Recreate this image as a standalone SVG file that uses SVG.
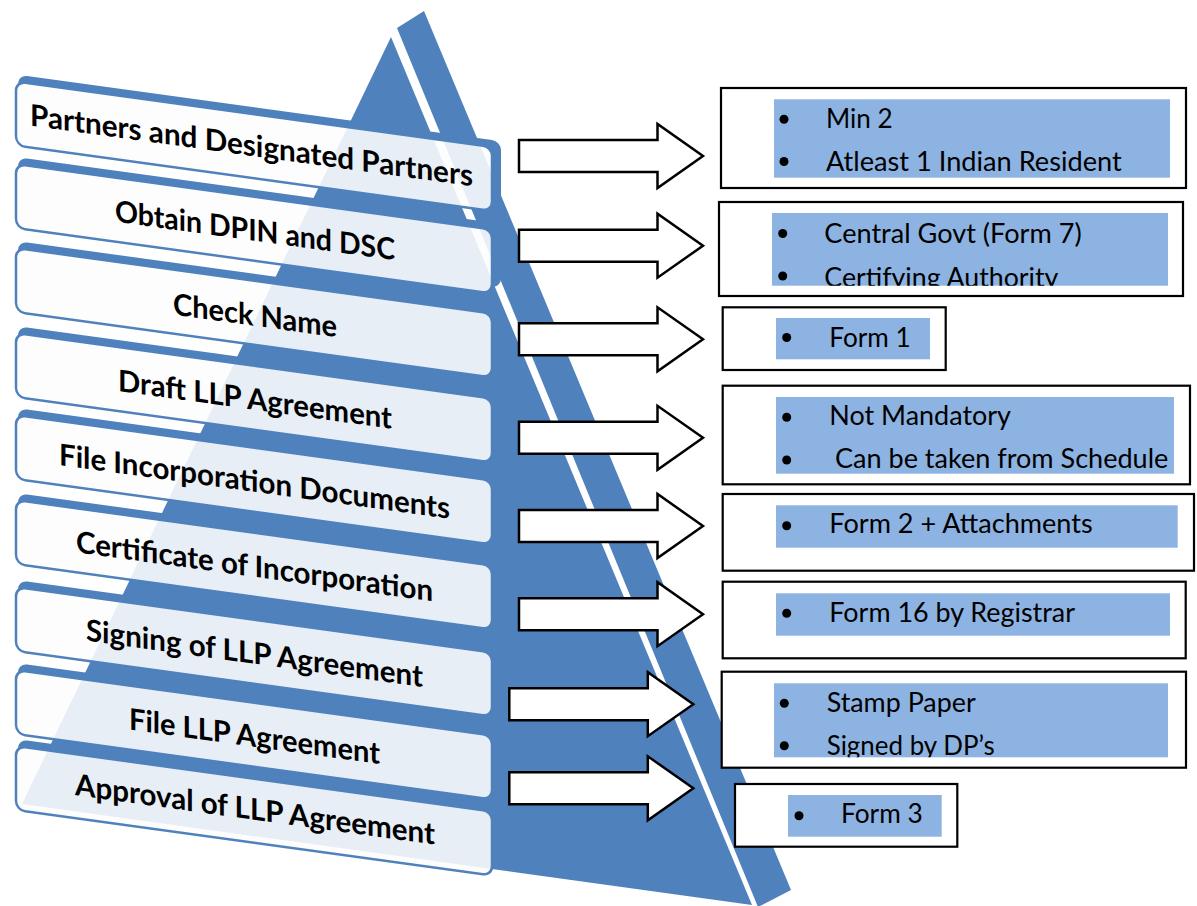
<svg xmlns="http://www.w3.org/2000/svg" xmlns:xlink="http://www.w3.org/1999/xlink" width="1197" height="906" viewBox="0 0 1197 906">
  <style>
    .face{fill:#4F81BD}
    .back{fill:#4F81BD}
    .front{fill:#FDFDFE;stroke:#4F81BD;stroke-width:2.5}
    .tint{opacity:0.12}
    .lbl{font-family:Lato,"Liberation Sans",sans-serif;font-weight:700;font-size:30px;fill:#000}
    .box{fill:#fff;stroke:#000;stroke-width:2.2}
    .hl{fill:#8DB3E2}
    .item{font-family:Lato,"Liberation Sans",sans-serif;font-size:27px;fill:#000}
    .dot{fill:#000}
    .arrow{fill:#fff;stroke:#000;stroke-width:2.5;stroke-linejoin:miter}
  </style>
  <defs>
    <!-- two faces of the pyramid, separated by a thin white gap -->
    <g id="pyr">
      <polygon class="face" points="391,37 752,905 22,804"/>
      <polygon class="face" points="397,28 424,11 791,890 758,907"/>
    </g>
    <!-- front faces of the step bands, used to tint the pyramid seen through them -->
    <clipPath id="f1"><rect x="16" y="0" width="476" height="64" rx="9" transform="translate(0,79.3) skewY(7.83)"/></clipPath>
    <clipPath id="f2"><rect x="16" y="0" width="476" height="64" rx="9" transform="translate(0,161.8) skewY(7.83)"/></clipPath>
    <clipPath id="f3"><rect x="16" y="0" width="476" height="64" rx="9" transform="translate(0,245.8) skewY(7.83)"/></clipPath>
    <clipPath id="f4"><rect x="16" y="0" width="476" height="64" rx="9" transform="translate(0,330.8) skewY(7.83)"/></clipPath>
    <clipPath id="f5"><rect x="16" y="0" width="476" height="64" rx="9" transform="translate(0,412.8) skewY(7.83)"/></clipPath>
    <clipPath id="f6"><rect x="16" y="0" width="476" height="64" rx="9" transform="translate(0,497.8) skewY(7.83)"/></clipPath>
    <clipPath id="f7"><rect x="16" y="0" width="476" height="64" rx="9" transform="translate(0,584.8) skewY(7.83)"/></clipPath>
    <clipPath id="f8"><rect x="16" y="0" width="476" height="64" rx="9" transform="translate(0,667.8) skewY(7.83)"/></clipPath>
    <clipPath id="f9"><rect x="16" y="0" width="476" height="64" rx="9" transform="translate(0,743.8) skewY(7.83)"/></clipPath>
    <!-- text areas of the note boxes whose last line is cut off -->
    <clipPath id="c2"><rect x="772" y="213" width="396" height="72.7"/></clipPath>
    <clipPath id="c7"><rect x="774" y="683.3" width="394" height="74"/></clipPath>
  </defs>

  <rect width="1197" height="906" fill="#fff"/>

  <!-- pyramid -->
  <g id="pyramid">
    <use xlink:href="#pyr"/>
  </g>

  <!-- step bands -->
  <g id="step1">
    <g transform="translate(0,79.3) skewY(7.83)">
      <rect class="back" x="18" y="-7" width="483" height="64" rx="9"/>
      <rect class="front" x="16" y="0" width="476" height="64" rx="9"/>
    </g>
    <use xlink:href="#pyr" class="tint" clip-path="url(#f1)"/>
    <text class="lbl" transform="translate(0,79.3) skewY(7.83)" x="30" y="42" textLength="443" lengthAdjust="spacingAndGlyphs">Partners and Designated Partners</text>
  </g>
  <g id="step2">
    <g transform="translate(0,161.8) skewY(7.83)">
      <rect class="back" x="18" y="-7" width="483" height="64" rx="9"/>
      <rect class="front" x="16" y="0" width="476" height="64" rx="9"/>
    </g>
    <use xlink:href="#pyr" class="tint" clip-path="url(#f2)"/>
    <text class="lbl" transform="translate(0,161.8) skewY(7.83)" x="115" y="44" textLength="280" lengthAdjust="spacingAndGlyphs">Obtain DPIN and DSC</text>
  </g>
  <g id="step3">
    <g transform="translate(0,245.8) skewY(7.83)">
      <rect class="back" x="18" y="-7" width="483" height="64" rx="9"/>
      <rect class="front" x="16" y="0" width="476" height="64" rx="9"/>
    </g>
    <use xlink:href="#pyr" class="tint" clip-path="url(#f3)"/>
    <text class="lbl" transform="translate(0,245.8) skewY(7.83)" x="173" y="45" textLength="164" lengthAdjust="spacingAndGlyphs">Check Name</text>
  </g>
  <g id="step4">
    <g transform="translate(0,330.8) skewY(7.83)">
      <rect class="back" x="18" y="-7" width="483" height="64" rx="9"/>
      <rect class="front" x="16" y="0" width="476" height="64" rx="9"/>
    </g>
    <use xlink:href="#pyr" class="tint" clip-path="url(#f4)"/>
    <text class="lbl" transform="translate(0,330.8) skewY(7.83)" x="118" y="44" textLength="274" lengthAdjust="spacingAndGlyphs">Draft LLP Agreement</text>
  </g>
  <g id="step5">
    <g transform="translate(0,412.8) skewY(7.83)">
      <rect class="back" x="18" y="-7" width="483" height="64" rx="9"/>
      <rect class="front" x="16" y="0" width="476" height="64" rx="9"/>
    </g>
    <use xlink:href="#pyr" class="tint" clip-path="url(#f5)"/>
    <text class="lbl" transform="translate(0,412.8) skewY(7.83)" x="59" y="44" textLength="391" lengthAdjust="spacingAndGlyphs">File Incorporation Documents</text>
  </g>
  <g id="step6">
    <g transform="translate(0,497.8) skewY(7.83)">
      <rect class="back" x="18" y="-7" width="483" height="64" rx="9"/>
      <rect class="front" x="16" y="0" width="476" height="64" rx="9"/>
    </g>
    <use xlink:href="#pyr" class="tint" clip-path="url(#f6)"/>
    <text class="lbl" transform="translate(0,497.8) skewY(7.83)" x="76" y="44" textLength="357" lengthAdjust="spacingAndGlyphs">Certificate of Incorporation</text>
  </g>
  <g id="step7">
    <g transform="translate(0,584.8) skewY(7.83)">
      <rect class="back" x="18" y="-7" width="483" height="64" rx="9"/>
      <rect class="front" x="16" y="0" width="476" height="64" rx="9"/>
    </g>
    <use xlink:href="#pyr" class="tint" clip-path="url(#f7)"/>
    <text class="lbl" transform="translate(0,584.8) skewY(7.83)" x="86" y="44" textLength="337" lengthAdjust="spacingAndGlyphs">Signing of LLP Agreement</text>
  </g>
  <g id="step8">
    <g transform="translate(0,667.8) skewY(7.83)">
      <rect class="back" x="18" y="-7" width="483" height="64" rx="9"/>
      <rect class="front" x="16" y="0" width="476" height="64" rx="9"/>
    </g>
    <use xlink:href="#pyr" class="tint" clip-path="url(#f8)"/>
    <text class="lbl" transform="translate(0,667.8) skewY(7.83)" x="129" y="44" textLength="251" lengthAdjust="spacingAndGlyphs">File LLP Agreement</text>
  </g>
  <g id="step9">
    <g transform="translate(0,743.8) skewY(7.83)">
      <rect class="back" x="18" y="-7" width="483" height="64" rx="9"/>
      <rect class="front" x="16" y="0" width="476" height="64" rx="9"/>
    </g>
    <use xlink:href="#pyr" class="tint" clip-path="url(#f9)"/>
    <text class="lbl" transform="translate(0,743.8) skewY(7.83)" x="75" y="41" textLength="360" lengthAdjust="spacingAndGlyphs">Approval of LLP Agreement</text>
  </g>

  <!-- block arrows from each step to its note -->
  <g id="connectors">
    <polygon class="arrow" points="519,140 657.5,140 657.5,124 703,156 657.5,188 657.5,172 519,172"/>
    <polygon class="arrow" points="519,229.7 657.5,229.7 657.5,213.7 703,245.7 657.5,277.7 657.5,261.7 519,261.7"/>
    <polygon class="arrow" points="519,323.3 657.5,323.3 657.5,307.3 703,339.3 657.5,371.3 657.5,355.3 519,355.3"/>
    <polygon class="arrow" points="519,421.8 657.5,421.8 657.5,405.8 703,437.8 657.5,469.8 657.5,453.8 519,453.8"/>
    <polygon class="arrow" points="519,510 657.5,510 657.5,494 703,526 657.5,558 657.5,542 519,542"/>
    <polygon class="arrow" points="519,598.2 657.5,598.2 657.5,582.2 703,614.2 657.5,646.2 657.5,630.2 519,630.2"/>
    <polygon class="arrow" points="509.3,688.2 647.8,688.2 647.8,672.2 693.3,704.2 647.8,736.2 647.8,720.2 509.3,720.2"/>
    <polygon class="arrow" points="509.3,772.3 647.8,772.3 647.8,756.3 693.3,788.3 647.8,820.3 647.8,804.3 509.3,804.3"/>
  </g>

  <!-- notes -->
  <g id="note1">
    <rect class="box" x="721" y="88" width="465" height="100"/>
    <rect class="hl" x="774" y="99.3" width="396" height="78.4"/>
    <circle class="dot" cx="784" cy="119.3" r="4.5"/>
    <circle class="dot" cx="784" cy="161.5" r="4.5"/>
    <text class="item" x="826" y="128.3" textLength="66.7" lengthAdjust="spacingAndGlyphs">Min 2</text>
    <text class="item" x="826" y="170.7" textLength="295.7" lengthAdjust="spacingAndGlyphs">Atleast 1 Indian Resident</text>
  </g>
  <g id="note2">
    <rect class="box" x="719" y="202" width="464" height="94"/>
    <rect class="hl" x="772" y="213" width="396" height="72.7"/>
    <circle class="dot" cx="782.7" cy="233.5" r="4.5"/>
    <circle class="dot" cx="782.7" cy="276" r="4.5"/>
    <text class="item" x="824.3" y="243" textLength="257.4" lengthAdjust="spacingAndGlyphs">Central Govt (Form 7)</text>
    <text class="item" x="824.3" y="286.5" textLength="234" lengthAdjust="spacingAndGlyphs" clip-path="url(#c2)">Certifying Authority</text>
  </g>
  <g id="note3">
    <rect class="box" x="722.7" y="307.3" width="223" height="62.7"/>
    <rect class="hl" x="776" y="318" width="154" height="41.3"/>
    <circle class="dot" cx="786.7" cy="337.5" r="4.5"/>
    <text class="item" x="829.3" y="346.7" textLength="81.4" lengthAdjust="spacingAndGlyphs">Form 1</text>
  </g>
  <g id="note4">
    <rect class="box" x="722.7" y="385.7" width="467.3" height="98.6"/>
    <rect class="hl" x="776" y="397" width="398" height="76.7"/>
    <circle class="dot" cx="786.7" cy="417.3" r="4.5"/>
    <circle class="dot" cx="786.7" cy="460" r="4.5"/>
    <text class="item" x="829.3" y="425" textLength="181.7" lengthAdjust="spacingAndGlyphs">Not Mandatory</text>
    <text class="item" x="835" y="468.3" textLength="333.3" lengthAdjust="spacingAndGlyphs">Can be taken from Schedule</text>
  </g>
  <g id="note5">
    <rect class="box" x="722.7" y="494" width="471.3" height="76.7"/>
    <rect class="hl" x="776" y="505.3" width="401.7" height="42.4"/>
    <circle class="dot" cx="786.7" cy="525.7" r="4.5"/>
    <text class="item" x="829.3" y="533.3" textLength="263.4" lengthAdjust="spacingAndGlyphs">Form 2 + Attachments</text>
  </g>
  <g id="note6">
    <rect class="box" x="722.7" y="581.7" width="463" height="76.6"/>
    <rect class="hl" x="776" y="593.3" width="394" height="42.4"/>
    <circle class="dot" cx="786.7" cy="613.3" r="4.5"/>
    <text class="item" x="829.3" y="621.7" textLength="245.7" lengthAdjust="spacingAndGlyphs">Form 16 by Registrar</text>
  </g>
  <g id="note7">
    <rect class="box" x="721.7" y="671.7" width="464.3" height="96"/>
    <rect class="hl" x="774" y="683.3" width="394" height="74"/>
    <circle class="dot" cx="784.3" cy="703.3" r="4.5"/>
    <circle class="dot" cx="784.3" cy="745.7" r="4.5"/>
    <text class="item" x="826.7" y="711.7" textLength="149" lengthAdjust="spacingAndGlyphs">Stamp Paper</text>
    <text class="item" x="826.7" y="754.5" textLength="168" lengthAdjust="spacingAndGlyphs" clip-path="url(#c7)">Signed by DP’s</text>
  </g>
  <g id="note8">
    <rect class="box" x="735" y="784" width="222.3" height="62.7"/>
    <rect class="hl" x="788" y="795" width="153.7" height="41.7"/>
    <circle class="dot" cx="799" cy="815.7" r="4.5"/>
    <text class="item" x="841" y="823.3" textLength="81.7" lengthAdjust="spacingAndGlyphs">Form 3</text>
  </g>
</svg>
